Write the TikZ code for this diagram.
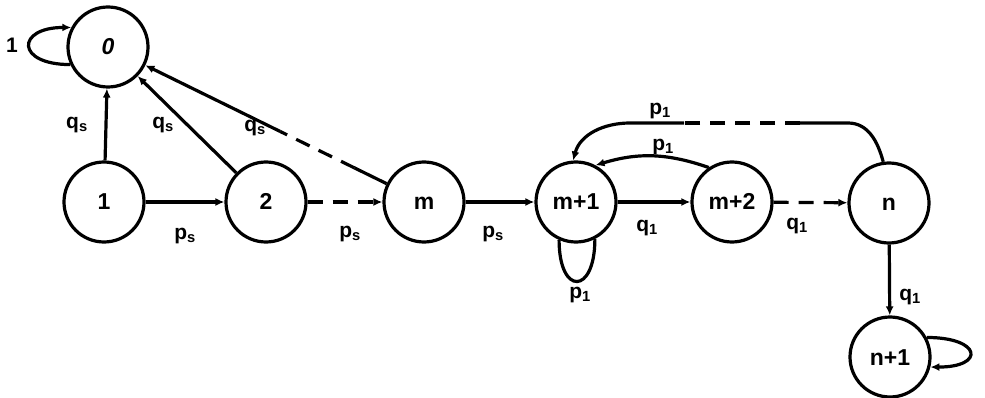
\documentclass[tikz,border=0pt]{standalone}
\usepackage{fontspec}
\setmainfont{Liberation Sans}
\usetikzlibrary{arrows.meta,calc}
\begin{document}
\begin{tikzpicture}[x=1pt,y=-1pt,
  state/.style={circle,draw,line width=3.2pt,minimum size=80pt,inner sep=0pt,
    text height=16pt,text depth=0pt,
    font=\fontsize{23}{23}\selectfont\bfseries},
  edge/.style={line width=3.2pt,-{Latex[length=9pt,width=8pt]}},
  plain/.style={line width=3.2pt},
  dsh/.style={dash pattern=on 15pt off 10pt},
  lbl/.style={font=\fontsize{21}{21}\selectfont\bfseries,inner sep=0pt}]
\useasboundingbox (0,0) rectangle (985,398);

% states
\node[state] (s0) at (108,47) {\itshape 0};
\node[state] (s1) at (104,202) {1};
\node[state] (s2) at (266,202) {2};
\node[state] (sm) at (424,202) {m};
\node[state] (sm1) at (576,202) {m+1};
\node[state] (sm2) at (732,202) {m+2};
\node[state] (sn) at (889,203) {n};
\node[state] (sn1) at (890,357) {n+1};

% absorbing loop on 0
\draw[edge] (s0.205) .. controls +(-55,0) and +(-55,0) .. (s0.152);
\node[lbl] (l0) at (12,45) {1};

% transitions into 0
\draw[edge] (s1) -- (s0);
\draw[edge] (s2) -- (s0);
\coordinate (d1) at ($(s0)!0.545!(sm)$);
\coordinate (d2) at ($(s0)!0.78!(sm)$);
\draw[plain] (sm) -- (d2);
\draw[plain,dsh] (d2) -- (d1);
\draw[edge] (d1) -- (s0);
\node[lbl] (la) at (77,125) {q\textsubscript{s}};
\node[lbl] (lb) at (163,125) {q\textsubscript{s}};
\node[lbl] (lc) at (255,128) {q\textsubscript{s}};

% forward chain
\draw[edge] (s1) -- (s2);
\draw[edge,dsh] (s2) -- (sm);
\draw[edge] (sm) -- (sm1);
\draw[edge] (sm1) -- (sm2);
\draw[edge,dsh] (sm2) -- (sn);
\draw[edge] (sn) -- (sn1);
\node[lbl] (ld) at (185,236) {p\textsubscript{s}};
\node[lbl] (le) at (350,234) {p\textsubscript{s}};
\node[lbl] (lf) at (493,234) {p\textsubscript{s}};
\node[lbl] (lg) at (647,228) {q\textsubscript{1}};
\node[lbl] (lh) at (797,226) {q\textsubscript{1}};
\node[lbl] (li) at (910,297) {q\textsubscript{1}};

% returns to m+1
\draw[edge] (sm2.124) to[bend right=18] (sm1.62);
\node[lbl] (lj) at (663,147) {p\textsubscript{1}};
\coordinate (tr) at (848,123);
\coordinate (dr) at (800,123);
\coordinate (dl) at (684,123);
\coordinate (tl) at (630,123);
\draw[plain] (sn.98) to[out=105,in=0] (tr) -- (dr);
\draw[plain,dsh] (dr) -- (dl);
\draw[edge] (dl) -- (tl) to[out=180,in=75] (sm1.94);
\node[lbl] (lk) at (660,111) {p\textsubscript{1}};

% loop on m+1
\draw[plain] (sm1.246) .. controls +(0,56) and +(0,56) .. (sm1.297);
\node[lbl] (ll) at (580,295) {p\textsubscript{1}};

% absorbing loop on n+1
\draw[edge] (sn1.28) .. controls +(55,0) and +(55,0) .. (sn1.-14);
\end{tikzpicture}
\end{document}
